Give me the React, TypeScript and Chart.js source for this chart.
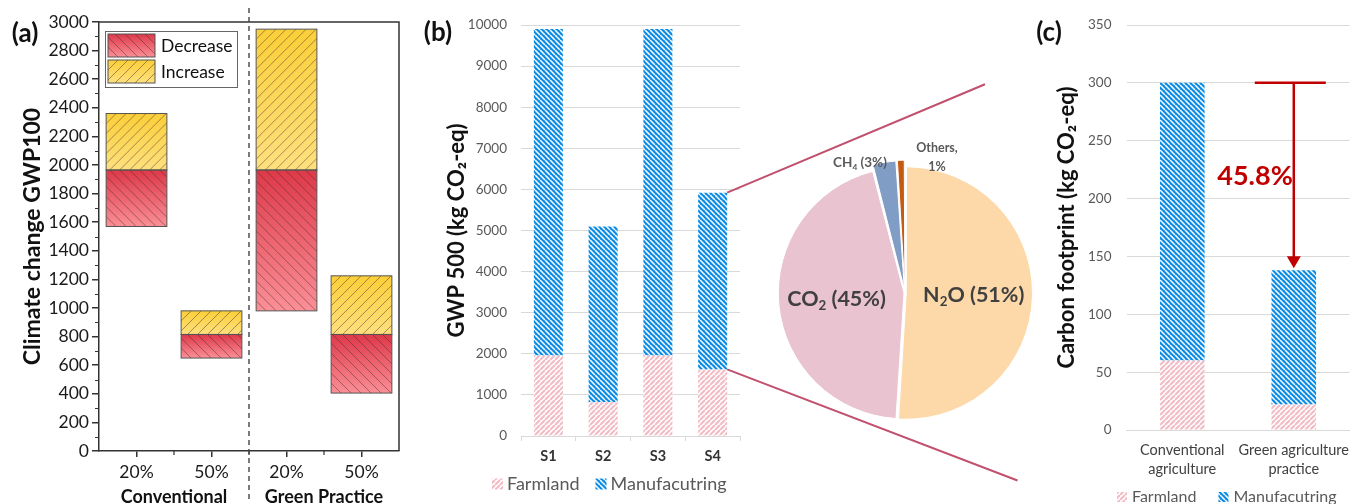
import React, { useEffect, useRef } from 'react';
import { Chart, registerables } from 'chart.js';

Chart.register(...registerables);

const W = 1363;
const H = 504;
const FONT = 'Lato, "Open Sans", "DejaVu Sans", sans-serif';

// ---------- Panel (a) ----------
const aCategories = ['20%', '50%', '20%', '50%'];
const aGroups = ['Conventional', 'Green Practice'];
const aSeriesNames = ['Decrease', 'Increase'];
const aDecrease = [[1570, 1965], [650, 815], [980, 1965], [405, 815]];
const aIncrease = [[1965, 2360], [815, 980], [1965, 2950], [815, 1225]];
const aYMax = 3000;
const aYStep = 200;
const aYTitle = 'Climate change GWP100';

// ---------- Panel (b) ----------
const bCategories = ['S1', 'S2', 'S3', 'S4'];
const bSeriesNames = ['Farmland', 'Manufacutring'];
const bFarmland = [1960, 820, 1960, 1620];
const bManufacturing = [7940, 4280, 7940, 4300];
const bYMax = 10000;
const bYStep = 1000;
const bYTitle = 'GWP 500 (kg CO₂-eq)';

// ---------- Pie ----------
const pieLabels = ['N₂O', 'CO₂', 'CH₄', 'Others'];
const pieValues = [51, 45, 3, 1];
const pieColors = ['#fdd9aa', '#eac3d0', '#7f9dc5', '#c55a11'];

// ---------- Panel (c) ----------
const cCategories = [['Conventional', 'agriculture'], ['Green agriculture', 'practice']];
const cSeriesNames = ['Farmland', 'Manufacutring'];
const cFarmland = [60, 22];
const cManufacturing = [240, 116];
const cYMax = 350;
const cYStep = 50;
const cYTitle = 'Carbon footprint (kg CO₂-eq)';
const cReduction = '45.8%';

// ---------- helpers ----------
function stripePattern(bg: string, fg: string, size: number, lw: number, dir: '/' | '\\') {
  const c = document.createElement('canvas');
  c.width = size;
  c.height = size;
  const g = c.getContext('2d')!;
  g.fillStyle = bg;
  g.fillRect(0, 0, size, size);
  g.strokeStyle = fg;
  g.lineWidth = lw;
  g.beginPath();
  for (const o of [-size, 0, size]) {
    if (dir === '/') {
      g.moveTo(o, size);
      g.lineTo(o + size, 0);
    } else {
      g.moveTo(o, 0);
      g.lineTo(o + size, size);
    }
  }
  g.stroke();
  return g.createPattern(c, 'repeat')!;
}

function hatch(ctx: CanvasRenderingContext2D, l: number, t: number, w: number, h: number, dir: '/' | '\\') {
  ctx.save();
  ctx.beginPath();
  ctx.rect(l, t, w, h);
  ctx.clip();
  ctx.strokeStyle = 'rgba(70,45,45,0.6)';
  ctx.lineWidth = 0.8;
  ctx.beginPath();
  const sp = 10;
  for (let k = -h; k < w + h; k += sp) {
    if (dir === '\\') {
      ctx.moveTo(l + k, t);
      ctx.lineTo(l + k + h, t + h);
    } else {
      ctx.moveTo(l + k, t + h);
      ctx.lineTo(l + k + h, t);
    }
  }
  ctx.stroke();
  ctx.restore();
}

const SUBS = '₀₁₂₃₄₅₆₇₈₉';
function splitSub(s: string) {
  const parts: { t: string; sub: boolean }[] = [];
  for (const ch of s) {
    const i = SUBS.indexOf(ch);
    const sub = i >= 0;
    const c = sub ? String(i) : ch;
    const last = parts[parts.length - 1];
    if (last && last.sub === sub) last.t += c;
    else parts.push({ t: c, sub });
  }
  return parts;
}

function drawRich(
  ctx: CanvasRenderingContext2D,
  text: string,
  x: number,
  y: number,
  size: number,
  weight: string,
  color: string,
  align: 'left' | 'center' | 'right' = 'center'
) {
  const parts = splitSub(text);
  const fontFor = (sub: boolean) => `${weight} ${sub ? size * 0.62 : size}px ${FONT}`;
  let total = 0;
  const widths = parts.map((p) => {
    ctx.font = fontFor(p.sub);
    const w = ctx.measureText(p.t).width;
    total += w;
    return w;
  });
  let cx = align === 'left' ? x : align === 'right' ? x - total : x - total / 2;
  ctx.save();
  ctx.fillStyle = color;
  ctx.textBaseline = 'middle';
  ctx.textAlign = 'left';
  parts.forEach((p, i) => {
    ctx.font = fontFor(p.sub);
    ctx.fillText(p.t, cx, p.sub ? y + size * 0.3 : y);
    cx += widths[i];
  });
  ctx.restore();
}

function panelLabel(ctx: CanvasRenderingContext2D, text: string, x: number, y: number) {
  ctx.save();
  ctx.font = `bold 26px ${FONT}`;
  ctx.fillStyle = '#111';
  ctx.textAlign = 'center';
  ctx.textBaseline = 'middle';
  ctx.fillText(text, x, y);
  ctx.restore();
}

const DEC_STOPS: [string, string] = ['#de3949', '#fb8f97'];
const INC_STOPS: [string, string] = ['#fbcf38', '#fee07e'];

const gradFor = (stops: [string, string]) => (c: any) => {
  const chart = c.chart;
  if (c.type !== 'data' || !chart.chartArea) return stops[0];
  const raw = c.raw as number[];
  const ys = chart.scales.y;
  const t = ys.getPixelForValue(Math.max(raw[0], raw[1]));
  const b = ys.getPixelForValue(Math.min(raw[0], raw[1]));
  const g = chart.ctx.createLinearGradient(0, t, 0, b);
  g.addColorStop(0, stops[0]);
  g.addColorStop(1, stops[1]);
  return g;
};

const plainNum = (v: any) => String(v);

const panelAPlugin = {
  id: 'panelA',
  afterDatasetsDraw(chart: any) {
    const ctx: CanvasRenderingContext2D = chart.ctx;
    chart.data.datasets.forEach((_ds: any, di: number) => {
      const meta = chart.getDatasetMeta(di);
      meta.data.forEach((el: any) => {
        const p = el.getProps(['x', 'y', 'base', 'width'], true);
        const l = p.x - p.width / 2;
        const t = Math.min(p.y, p.base);
        const h = Math.abs(p.base - p.y);
        hatch(ctx, l, t, p.width, h, di === 0 ? '\\' : '/');
        ctx.save();
        ctx.strokeStyle = '#555';
        ctx.lineWidth = 1;
        ctx.strokeRect(l, t, p.width, h);
        ctx.restore();
      });
    });
  },
  afterDraw(chart: any) {
    const ctx: CanvasRenderingContext2D = chart.ctx;
    const ca = chart.chartArea;
    const xs = chart.scales.x;
    const ys = chart.scales.y;
    ctx.save();
    ctx.strokeStyle = '#333';
    ctx.lineWidth = 1.5;
    // frame
    ctx.beginPath();
    ctx.moveTo(ca.left, ca.top);
    ctx.lineTo(ca.right, ca.top);
    ctx.lineTo(ca.right, ca.bottom);
    ctx.stroke();
    // minor y ticks
    ctx.lineWidth = 1.2;
    ctx.beginPath();
    for (let v = aYStep / 2; v < aYMax; v += aYStep) {
      const y = Math.round(ys.getPixelForValue(v)) + 0.5;
      ctx.moveTo(ca.left - 4, y);
      ctx.lineTo(ca.left, y);
    }
    // minor x ticks at category boundaries
    for (let i = 0; i < aCategories.length - 1; i++) {
      const x = (xs.getPixelForValue(i) + xs.getPixelForValue(i + 1)) / 2;
      ctx.moveTo(x, ca.bottom);
      ctx.lineTo(x, ca.bottom + 4);
    }
    ctx.stroke();
    // dashed divider
    const xd = (xs.getPixelForValue(1) + xs.getPixelForValue(2)) / 2;
    ctx.setLineDash([5, 4]);
    ctx.strokeStyle = '#444';
    ctx.lineWidth = 1.4;
    ctx.beginPath();
    ctx.moveTo(xd, 8);
    ctx.lineTo(xd, 502);
    ctx.stroke();
    ctx.setLineDash([]);
    // group labels
    ctx.font = `bold 18px ${FONT}`;
    ctx.fillStyle = '#111';
    ctx.textAlign = 'center';
    ctx.textBaseline = 'middle';
    aGroups.forEach((g, gi) => {
      const x = (xs.getPixelForValue(gi * 2) + xs.getPixelForValue(gi * 2 + 1)) / 2;
      ctx.fillText(g, x, 497);
    });
    // legend
    const lx = ca.left + 6;
    const ly = ca.top + 9;
    ctx.fillStyle = '#fff';
    ctx.fillRect(lx, ly, 132, 56);
    ctx.strokeStyle = '#666';
    ctx.lineWidth = 1;
    ctx.strokeRect(lx + 0.5, ly + 0.5, 132, 56);
    [DEC_STOPS, INC_STOPS].forEach((stops, i) => {
      const sx = lx + 3;
      const sy = ly + 3 + i * 26;
      const g = ctx.createLinearGradient(0, sy, 0, sy + 23);
      g.addColorStop(0, stops[0]);
      g.addColorStop(1, stops[1]);
      ctx.fillStyle = g;
      ctx.fillRect(sx, sy, 47, 23);
      hatch(ctx, sx, sy, 47, 23, i === 0 ? '\\' : '/');
      ctx.strokeStyle = '#555';
      ctx.strokeRect(sx, sy, 47, 23);
      ctx.font = `17.5px ${FONT}`;
      ctx.fillStyle = '#111';
      ctx.textAlign = 'left';
      ctx.fillText(aSeriesNames[i], sx + 53, sy + 12);
    });
    ctx.restore();
    panelLabel(ctx, '(a)', 25, 34);
  },
};

function legendPlugin(id: string, cfg: { x: number; y: number; box: number; size: number; gap: number; textGap: number }) {
  return {
    id,
    afterDraw(chart: any) {
      const ctx: CanvasRenderingContext2D = chart.ctx;
      let x = cfg.x;
      ctx.save();
      ctx.font = `${cfg.size}px ${FONT}`;
      ctx.textBaseline = 'middle';
      ctx.textAlign = 'left';
      chart.data.datasets.forEach((ds: any) => {
        ctx.fillStyle = ds.backgroundColor;
        ctx.fillRect(x, cfg.y - cfg.box / 2, cfg.box, cfg.box);
        x += cfg.box + cfg.textGap;
        ctx.fillStyle = '#595959';
        ctx.fillText(ds.label, x, cfg.y);
        x += ctx.measureText(ds.label).width + cfg.gap;
      });
      ctx.restore();
    },
  };
}

const cArrowPlugin = {
  id: 'cArrow',
  afterDatasetsDraw(chart: any) {
    const ctx: CanvasRenderingContext2D = chart.ctx;
    const ys = chart.scales.y;
    const totals = cFarmland.map((v, i) => v + cManufacturing[i]);
    const bar: any = chart.getDatasetMeta(1).data[1];
    const x = bar.x;
    const yTop = ys.getPixelForValue(totals[0]);
    const yBot = ys.getPixelForValue(totals[1]);
    ctx.save();
    ctx.strokeStyle = '#c00000';
    ctx.fillStyle = '#c00000';
    ctx.lineWidth = 2.5;
    ctx.beginPath();
    ctx.moveTo(x - 39, yTop);
    ctx.lineTo(x + 32, yTop);
    ctx.stroke();
    ctx.beginPath();
    ctx.moveTo(x, yTop);
    ctx.lineTo(x, yBot - 13);
    ctx.stroke();
    ctx.beginPath();
    ctx.moveTo(x - 7, yBot - 14);
    ctx.lineTo(x + 7, yBot - 14);
    ctx.lineTo(x, yBot - 2);
    ctx.closePath();
    ctx.fill();
    ctx.font = `bold 27px ${FONT}`;
    ctx.textAlign = 'right';
    ctx.textBaseline = 'middle';
    ctx.fillText(cReduction, x - 1, (yTop + yBot) / 2);
    ctx.restore();
  },
  afterDraw(chart: any) {
    panelLabel(chart.ctx, '(c)', 1049, 33);
  },
};

const bLabelPlugin = {
  id: 'bLabel',
  afterDraw(chart: any) {
    panelLabel(chart.ctx, '(b)', 438, 33);
  },
};

export default function App() {
  const aRef = useRef<HTMLCanvasElement>(null);
  const bRef = useRef<HTMLCanvasElement>(null);
  const pRef = useRef<HTMLCanvasElement>(null);
  const cRef = useRef<HTMLCanvasElement>(null);

  useEffect(() => {
    const charts: Chart[] = [];
    const farmPat = stripePattern('#ffffff', '#f2bcc5', 5, 2.2, '/');
    const manPat = stripePattern('#0a8ce6', '#ffffff', 5, 1.5, '\\');

    const tickFont = (size: number, weight: any = 'normal', lineHeight = 1.2) => ({ family: FONT, size, weight, lineHeight });

    // ---- (a)
    charts.push(
      new Chart(aRef.current!, {
        type: 'bar',
        data: {
          labels: aCategories,
          datasets: [
            { label: aSeriesNames[0], data: aDecrease as any, backgroundColor: gradFor(DEC_STOPS) as any, borderWidth: 0, grouped: false, barPercentage: 0.81, categoryPercentage: 1 },
            { label: aSeriesNames[1], data: aIncrease as any, backgroundColor: gradFor(INC_STOPS) as any, borderWidth: 0, grouped: false, barPercentage: 0.81, categoryPercentage: 1 },
          ],
        },
        options: {
          responsive: false,
          animation: false,
          devicePixelRatio: 1,
          layout: { padding: { left: 19, right: 964, top: 22, bottom: 13 } },
          plugins: { legend: { display: false }, tooltip: { enabled: false } },
          scales: {
            x: {
              grid: { offset: false, drawOnChartArea: false, tickLength: 6, color: '#333', lineWidth: 1.5 },
              border: { color: '#333', width: 1.5 },
              ticks: { font: tickFont(17.5), color: '#1a1a1a', padding: 5 },
              afterFit: (s: any) => { s.height = 40; },
            },
            y: {
              min: 0,
              max: aYMax,
              ticks: { stepSize: aYStep, autoSkip: false, font: tickFont(17.5), color: '#1a1a1a', padding: 3, callback: plainNum },
              grid: { drawOnChartArea: false, tickLength: 7, color: '#333', lineWidth: 1.5 },
              border: { color: '#333', width: 1.5 },
              title: { display: true, text: aYTitle, font: { family: FONT, size: 23, weight: 'bold' }, color: '#111', padding: 0 },
              afterFit: (s: any) => { s.width = 80; },
            },
          },
        } as any,
        plugins: [panelAPlugin as any],
      })
    );

    // ---- (b)
    const bChart = new Chart(bRef.current!, {
      type: 'bar',
      data: {
        labels: bCategories,
        datasets: [
          { label: bSeriesNames[0], data: bFarmland, backgroundColor: farmPat as any, borderWidth: 0, barPercentage: 0.53, categoryPercentage: 1 },
          { label: bSeriesNames[1], data: bManufacturing, backgroundColor: manPat as any, borderWidth: 0, barPercentage: 0.53, categoryPercentage: 1 },
        ],
      },
      options: {
        responsive: false,
        animation: false,
        devicePixelRatio: 1,
        layout: { padding: { left: 443.5, right: 623, top: 25, bottom: 38 } },
        plugins: { legend: { display: false }, tooltip: { enabled: false } },
        scales: {
          x: {
            stacked: true,
            grid: { drawOnChartArea: false, tickLength: 5, color: '#d9d9d9' },
            border: { color: '#d9d9d9', width: 1 },
            ticks: { font: tickFont(14.5, 'bold'), color: '#333', padding: 7 },
            afterFit: (s: any) => { s.height = 30; },
          },
          y: {
            stacked: true,
            min: 0,
            max: bYMax,
            ticks: { stepSize: bYStep, autoSkip: false, font: tickFont(13.5), color: '#595959', padding: 14, callback: plainNum },
            grid: { color: '#d9d9d9', drawTicks: false },
            border: { display: false },
            title: { display: true, text: bYTitle, font: { family: FONT, size: 22, weight: 'bold' }, color: '#111', padding: 0 },
            afterFit: (s: any) => { s.width = 77.5; },
          },
        },
      } as any,
      plugins: [bLabelPlugin as any, legendPlugin('bLegend', { x: 492, y: 484, box: 11, size: 18, gap: 16, textGap: 4 }) as any],
    });
    charts.push(bChart);

    // ---- pie
    const pieDecor = {
      id: 'pieDecor',
      afterDatasetsDraw(chart: any) {
        const ctx: CanvasRenderingContext2D = chart.ctx;
        const meta = chart.getDatasetMeta(0);
        const a0: any = meta.data[0];
        const cx = a0.x;
        const cy = a0.y;
        const r = a0.outerRadius;
        // connectors from S4 bar to pie
        const last = bCategories.length - 1;
        const m: any = bChart.getDatasetMeta(1).data[last];
        const f: any = bChart.getDatasetMeta(0).data[last];
        const xr = m.x + m.width / 2;
        ctx.save();
        ctx.strokeStyle = '#c0506e';
        ctx.lineWidth = 2;
        ctx.beginPath();
        ctx.moveTo(xr, m.y);
        ctx.lineTo(cx + 0.64 * r, cy - 1.67 * r);
        ctx.moveTo(xr, f.y);
        ctx.lineTo(cx + 0.9 * r, cy + 1.5 * r);
        ctx.stroke();
        ctx.restore();
        // labels
        meta.data.forEach((el: any, i: number) => {
          const mid = (el.startAngle + el.endAngle) / 2;
          if (pieValues[i] >= 10) {
            const lx = cx + Math.cos(mid) * r * 0.55;
            const ly = cy + Math.sin(mid) * r * 0.55;
            drawRich(ctx, `${pieLabels[i]} (${pieValues[i]}%)`, lx, ly, 21.5, 'bold', '#404040');
          }
        });
        drawRich(ctx, `${pieLabels[2]} (${pieValues[2]}%)`, cx - 45, cy - 130, 13.5, 'bold', '#595959');
        drawRich(ctx, `${pieLabels[3]},`, cx + 32, cy - 145, 12.5, 'bold', '#595959');
        drawRich(ctx, `${pieValues[3]}%`, cx + 32, cy - 126, 12.5, 'bold', '#595959');
      },
    };
    charts.push(
      new Chart(pRef.current!, {
        type: 'pie',
        data: {
          labels: pieLabels,
          datasets: [
            { data: pieValues, backgroundColor: pieColors, borderColor: '#ffffff', borderWidth: 1, offset: [5, 4, 16, 16] as any },
          ],
        },
        options: {
          responsive: false,
          animation: false,
          devicePixelRatio: 1,
          radius: 125,
          layout: { padding: { left: 780, right: 333, top: 168, bottom: 86 } },
          plugins: { legend: { display: false }, tooltip: { enabled: false } },
        } as any,
        plugins: [pieDecor as any],
      })
    );

    // ---- (c)
    charts.push(
      new Chart(cRef.current!, {
        type: 'bar',
        data: {
          labels: cCategories as any,
          datasets: [
            { label: cSeriesNames[0], data: cFarmland, backgroundColor: farmPat as any, borderWidth: 0, barPercentage: 0.4, categoryPercentage: 1 },
            { label: cSeriesNames[1], data: cManufacturing, backgroundColor: manPat as any, borderWidth: 0, barPercentage: 0.4, categoryPercentage: 1 },
          ],
        },
        options: {
          responsive: false,
          animation: false,
          devicePixelRatio: 1,
          layout: { padding: { left: 1053.5, right: 10, top: 25, bottom: 19 } },
          plugins: { legend: { display: false }, tooltip: { enabled: false } },
          scales: {
            x: {
              stacked: true,
              grid: { display: false, drawTicks: false },
              border: { color: '#d9d9d9', width: 1 },
              ticks: { font: tickFont(14.5, 'normal', 1.27), color: '#404040', padding: 11.5, maxRotation: 0, autoSkip: false },
              afterFit: (s: any) => { s.height = 55; },
            },
            y: {
              stacked: true,
              min: 0,
              max: cYMax,
              ticks: { stepSize: cYStep, autoSkip: false, font: tickFont(13.5), color: '#595959', padding: 15, callback: plainNum },
              grid: { color: '#d9d9d9', drawTicks: false },
              border: { display: false },
              title: { display: true, text: cYTitle, font: { family: FONT, size: 22, weight: 'bold' }, color: '#111', padding: 0 },
              afterFit: (s: any) => { s.width = 73; },
            },
          },
        } as any,
        plugins: [cArrowPlugin as any, legendPlugin('cLegend', { x: 1117, y: 497, box: 10, size: 16, gap: 22, textGap: 5 }) as any],
      })
    );

    return () => {
      charts.forEach((c) => c.destroy());
    };
  }, []);

  const cs: React.CSSProperties = { position: 'absolute', left: 0, top: 0, width: W, height: H };
  return (
    <div style={{ position: 'fixed', left: 0, top: 0, width: W, height: H, background: '#fff', overflow: 'hidden' }}>
      <canvas ref={aRef} width={W} height={H} style={cs} />
      <canvas ref={bRef} width={W} height={H} style={cs} />
      <canvas ref={pRef} width={W} height={H} style={cs} />
      <canvas ref={cRef} width={W} height={H} style={cs} />
    </div>
  );
}
